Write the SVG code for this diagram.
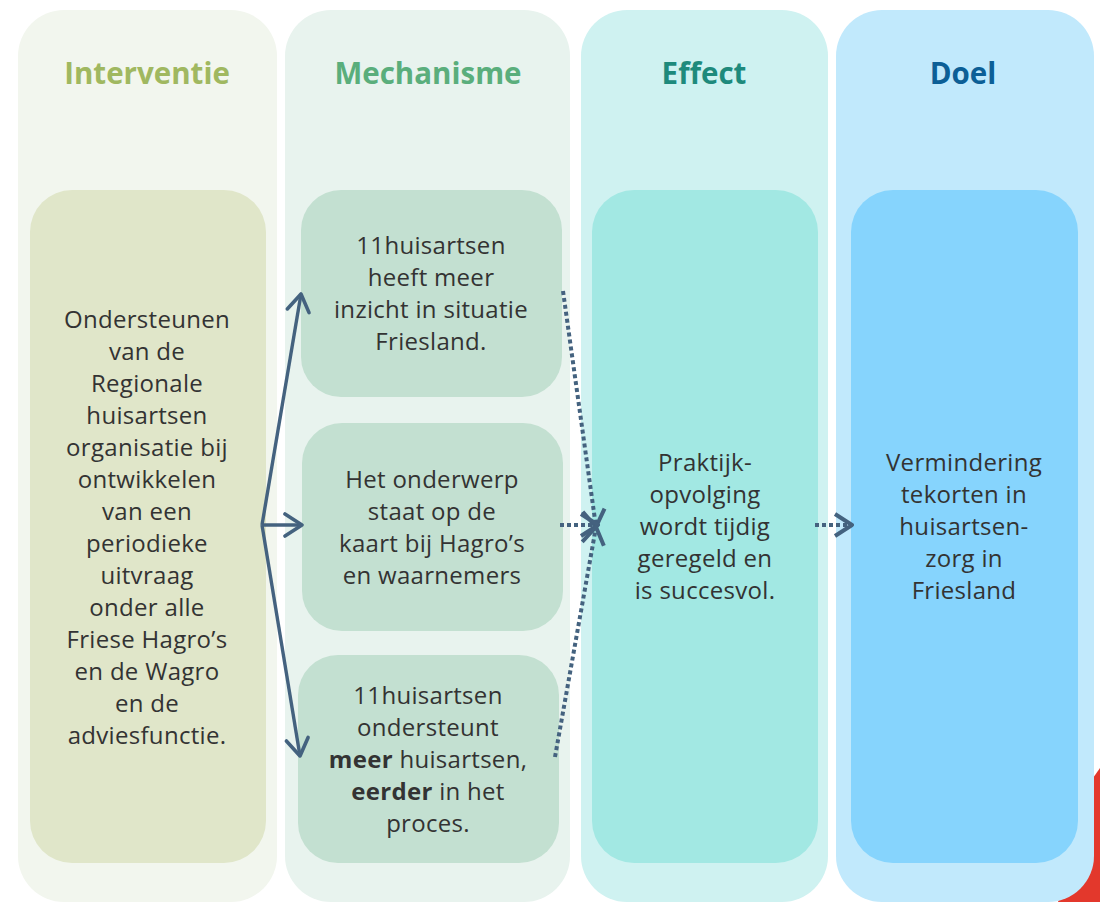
<svg xmlns="http://www.w3.org/2000/svg" width="1100" height="902" viewBox="0 0 1100 902">
<style>
.hdr{font-family:"Open Sans","Noto Sans","DejaVu Sans",sans-serif;font-weight:700;font-size:29.5px;text-anchor:middle}
.txt{font-family:"Open Sans","Noto Sans","DejaVu Sans",sans-serif;font-size:24px;letter-spacing:0.3px;fill:#333;text-anchor:middle}
.b{font-weight:700}
.solid{fill:none;stroke:#44627f;stroke-width:3.4;marker-end:url(#ah)}
.dot{fill:none;stroke:#44627f;stroke-width:4;stroke-dasharray:4 3;marker-end:url(#ah2)}
</style>
<defs>
<marker id="ah" viewBox="0 0 22 28" refX="20" refY="14" markerWidth="22" markerHeight="28" markerUnits="userSpaceOnUse" orient="auto">
<path d="M3,3 L20,14 L3,25" fill="none" stroke="#44627f" stroke-width="3.6" stroke-linecap="round" stroke-linejoin="round"/>
</marker>
<marker id="ah2" viewBox="0 0 22 28" refX="20" refY="14" markerWidth="22" markerHeight="28" markerUnits="userSpaceOnUse" orient="auto">
<path d="M3,3 L20,14 L3,25" fill="none" stroke="#44627f" stroke-width="4" stroke-linejoin="round"/>
</marker>
</defs>
<rect width="1100" height="902" fill="#ffffff"/>
<polygon points="1093,778 1100,768 1100,902 1058,902" fill="#e3382c"/>

<g id="col-interventie">
<rect x="18" y="10" width="259" height="892" rx="46" fill="#f2f6ee"/>
<text class="hdr" x="147" y="84" fill="#a0b860">Interventie</text>
</g>
<g id="col-mechanisme">
<rect x="285" y="10" width="285" height="892" rx="46" fill="#e8f3ee"/>
<text class="hdr" x="428" y="84" fill="#5aae7c">Mechanisme</text>
</g>
<g id="col-effect">
<rect x="581" y="10" width="247" height="892" rx="46" fill="#cff2f1"/>
<text class="hdr" x="704" y="84" fill="#1e8a7c">Effect</text>
</g>
<g id="col-doel">
<rect x="836" y="10" width="258" height="892" rx="46" fill="#c1e9fc"/>
<text class="hdr" x="963" y="84" fill="#0c5f96">Doel</text>
</g>

<g id="node-interventie">
<rect x="30" y="190" width="236" height="673" rx="42" fill="#e0e6c9"/>
<text class="txt" x="147" y="328">Ondersteunen</text>
<text class="txt" x="147" y="360">van de</text>
<text class="txt" x="147" y="392">Regionale</text>
<text class="txt" x="147" y="424">huisartsen</text>
<text class="txt" x="147" y="456">organisatie bij</text>
<text class="txt" x="147" y="488">ontwikkelen</text>
<text class="txt" x="147" y="520">van een</text>
<text class="txt" x="147" y="552">periodieke</text>
<text class="txt" x="147" y="584">uitvraag</text>
<text class="txt" x="147" y="616">onder alle</text>
<text class="txt" x="147" y="648">Friese Hagro’s</text>
<text class="txt" x="147" y="680">en de Wagro</text>
<text class="txt" x="147" y="712">en de</text>
<text class="txt" x="147" y="744">adviesfunctie.</text>
</g>

<g id="node-mech1">
<rect x="301" y="190" width="261" height="207" rx="40" fill="#c3e0d1"/>
<text class="txt" x="431" y="254">11huisartsen</text>
<text class="txt" x="431" y="286">heeft meer</text>
<text class="txt" x="431" y="318">inzicht in situatie</text>
<text class="txt" x="431" y="350">Friesland.</text>
</g>
<g id="node-mech2">
<rect x="302" y="423" width="261" height="208" rx="40" fill="#c3e0d1"/>
<text class="txt" x="432" y="488">Het onderwerp</text>
<text class="txt" x="432" y="520">staat op de</text>
<text class="txt" x="432" y="552">kaart bij Hagro’s</text>
<text class="txt" x="432" y="584">en waarnemers</text>
</g>
<g id="node-mech3">
<rect x="298" y="655" width="261" height="208" rx="40" fill="#c3e0d1"/>
<text class="txt" x="428" y="704">11huisartsen</text>
<text class="txt" x="428" y="736">ondersteunt</text>
<text class="txt" x="428" y="768"><tspan class="b">meer</tspan> huisartsen,</text>
<text class="txt" x="428" y="800"><tspan class="b">eerder</tspan> in het</text>
<text class="txt" x="428" y="832">proces.</text>
</g>

<g id="node-effect">
<rect x="592" y="190" width="226" height="673" rx="42" fill="#a2e8e3"/>
<text class="txt" x="705" y="471">Praktijk-</text>
<text class="txt" x="705" y="503">opvolging</text>
<text class="txt" x="705" y="535">wordt tijdig</text>
<text class="txt" x="705" y="567">geregeld en</text>
<text class="txt" x="705" y="599">is succesvol.</text>
</g>

<g id="node-doel">
<rect x="851" y="190" width="227" height="673" rx="42" fill="#86d4fd"/>
<text class="txt" x="964" y="471">Vermindering</text>
<text class="txt" x="964" y="503">tekorten in</text>
<text class="txt" x="964" y="535">huisartsen-</text>
<text class="txt" x="964" y="567">zorg in</text>
<text class="txt" x="964" y="599">Friesland</text>
</g>

<g id="connectors">
<path class="solid" d="M262,525 L301,294"/>
<path class="solid" d="M262,525 L302,525"/>
<path class="solid" d="M262,525 L300,756"/>
<path class="dot" d="M563,291 L596,527"/>
<path class="dot" d="M560,525 L598,525"/>
<path class="dot" d="M555,757 L596,527"/>
<path class="dot" d="M815,525 L852,525"/>
</g>
</svg>
